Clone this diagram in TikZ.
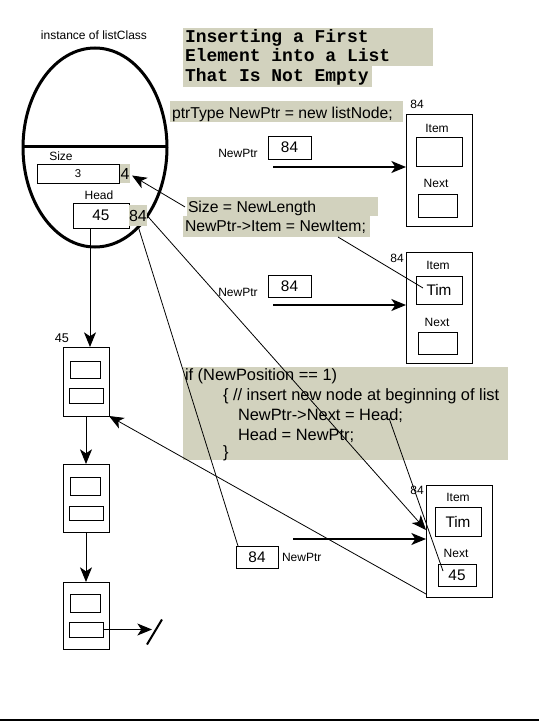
\documentclass[tikz,border=0pt]{standalone}
\usepackage{fontspec}
\setmainfont{Liberation Sans}
\newfontfamily\monob{Liberation Mono}
\usetikzlibrary{arrows.meta,shapes.geometric,calc}
\definecolor{hl}{RGB}{210,210,190}
\begin{document}
\begin{tikzpicture}[x=0.75pt,y=-0.75pt,
  every node/.style={inner sep=0pt, outer sep=0pt},
  sz/.style 2 args={minimum width=#1*0.75pt, minimum height=#2*0.75pt},
  lbl/.style={font=\fontsize{9}{10}\selectfont},
  box/.style={draw, line width=0.75pt},
  num/.style={font=\fontsize{11.5}{13}\selectfont},
  code/.style={font=\fontsize{11.8}{14}\selectfont, anchor=base west},
  code2/.style={font=\fontsize{12.3}{14}\selectfont, anchor=base west},
  bg/.style={fill=hl, anchor=north west},
  ttl/.style={font=\monob\bfseries\fontsize{13.5}{15}\selectfont, anchor=base west},
  arr/.style={-{Stealth[length=11pt,width=9pt,inset=3pt]}},
  conn/.style={line width=0.6pt},
  ptrarr/.style={arr, line width=1.1pt},
]
\useasboundingbox (0,0) rectangle (539,721);

% ---- title ----
\node[bg, sz={250}{38}] (t12bg) at (183,28) {};
\node[bg, sz={189}{21}] (t3bg) at (183,66) {};
\node[ttl] (t1) at (185,42) {Inserting a First};
\node[ttl] (t2) at (185,61.5) {Element into a List};
\node[ttl] (t3) at (185,81) {That Is Not Empty};

% ---- list object ----
\node[lbl] (inst) at (94,35) {instance of listClass};
\node[draw, ellipse, line width=2.25pt, sz={144}{199}] (obj) at (95,147.5) {};
\draw[line width=2.25pt] ($(obj.west)+(0,-1)$) -- ($(obj.east)+(0,-1)$);
\node[lbl] (sizel) at (61,156) {Size};
\node[box, sz={82}{19}, font=\fontsize{8.5}{10}\selectfont] (szb) at (78,173.5) {3};
\node[fill=hl, sz={10}{19}, font=\fontsize{12}{14}\selectfont] (four) at (125,173.5) {4};
\node[lbl] (headl) at (99,195) {Head};
\node[box, sz={56}{25}, num] (hb) at (101,215.5) {45};
\node[fill=hl, sz={18}{21}, font=\fontsize{12}{14}\selectfont] (hp) at (138,215.5) {84};

% ---- existing list ----
\node[font=\fontsize{9.5}{10}\selectfont] (l45) at (62,338) {45};
\node[box, sz={46}{69}] (l1) at (86,381.5) {};
\node[box, sz={30}{17}] (l1a) at (85,369.5) {};
\node[box, sz={34}{15}] (l1b) at (86,395.5) {};
\node[box, sz={46}{68}] (l2) at (86,498) {};
\node[box, sz={30}{18}] (l2a) at (85,486) {};
\node[box, sz={34}{14}] (l2b) at (86,513) {};
\node[box, sz={46}{67}] (l3) at (86,615.5) {};
\node[box, sz={30}{18}] (l3a) at (85,603) {};
\node[box, sz={34}{15}] (l3b) at (86,629.5) {};
\coordinate (vx) at (90,0);
\draw[arr, line width=0.75pt] (hb.south -| vx) -- (l1.north -| vx);
\draw[arr, line width=0.75pt] (l1.south) -- (l2.north);
\draw[arr, line width=0.75pt] (l2.south) -- (l3.north);
\coordinate (nullend) at (152,629.5);
\draw[arr, line width=0.75pt] (l3b.east) -- (nullend);
\draw[line width=1.5pt] ($(nullend)+(-5,15)$) -- ($(nullend)+(10,-10)$);

% ---- code texts ----
\node[bg, sz={233}{21}] (ptrbg) at (170,101) {};
\node[code] (ptr) at (172,118) {ptrType NewPtr = new listNode;};
\node[bg, sz={191}{19}] (szbg) at (187,197) {};
\node[bg, sz={187}{21}] (icbg) at (183,216) {};
\node[code] (szc) at (188,212) {Size = NewLength};
\node[code] (ic) at (185,231) {NewPtr->Item = NewItem;};
\node[bg, sz={325}{93}] (codebg) at (183,367) {};
\node[code2] (c1) at (185,380) {if (NewPosition == 1)};
\node[code2] (c2) at (223,400) {\{ // insert new node at beginning of list};
\node[code2] (c3) at (238,420) {NewPtr->Next = Head;};
\node[code2] (c4) at (238,440) {Head = NewPtr;};
\node[code2] (c5) at (223,457) {\}};

% ---- node A ----
\node[lbl] (a84l) at (417,104) {84};
\node[box, sz={66}{112}] (nA) at (439,170) {};
\node[lbl] (aitl) at (437,128) {Item};
\node[box, sz={46}{29}] (aIt) at (439,151.5) {};
\node[lbl] (anxl) at (436,183) {Next};
\node[box, sz={39}{23}] (aNx) at (437.5,205.5) {};
\node[lbl] (apl) at (238,153) {NewPtr};
\node[box, sz={43}{23}, num] (ap) at (289.5,147.5) {84};
\coordinate (aarr) at (273,167);
\draw[ptrarr] (aarr) -- (aarr -| nA.west);

% ---- node B ----
\node[lbl] (b84l) at (397,258) {84};
\node[box, sz={66}{111}] (nB) at (439,307.5) {};
\node[lbl] (bitl) at (438,265) {Item};
\node[box, sz={46}{28}, num] (timB) at (439,290) {Tim};
\node[lbl] (bnxl) at (437,322) {Next};
\node[box, sz={39}{22}] (bNx) at (437.5,343) {};
\node[lbl] (bpl) at (238,292) {NewPtr};
\node[box, sz={43}{22}, num] (bp) at (289.5,286) {84};
\coordinate (barr) at (273,305);
\draw[ptrarr] (barr) -- (barr -| nB.west);

% ---- node C ----
\node[lbl] (c84l) at (417,490) {84};
\node[box, sz={66}{112}] (nC) at (459,541) {};
\node[lbl] (citl) at (458,497) {Item};
\node[box, sz={46}{29}, num] (timC) at (458,521.5) {Tim};
\node[lbl] (cnxl) at (456,553) {Next};
\node[box, sz={38}{22}, num] (c45) at (457,575) {45};
\node[box, sz={42}{22}, num] (bp2) at (257,557) {84};
\node[lbl, anchor=west] (cpl) at (282,557) {NewPtr};
\coordinate (carr) at (293,539);
\draw[ptrarr] (carr) -- (carr -| nC.west);

% ---- connectors ----
\draw[arr, conn] ($(szc.west)+(-3,-1)$) -- ($(four.east)+(2,2)$);
\draw[conn] ($(icbg.south west)+(155,0)$) -- ($(timB.west)+(7,-2)$);
\draw[arr, conn] (hp.east) -- ($(nC.west)+(0,-11)$);
\draw[conn] (hp.south) -- ($(bp2.north west)+(2,0)$);
\draw[conn] ($(c3.base east)+(-14,-2)$) -- ($(c45.west)+(5,-4)$);
\draw[arr, conn] ($(nC.south west)+(0,-3)$) -- (l1.south east);

% ---- bottom rule ----
\coordinate (bl) at (0,719.5);
\coordinate (br) at (539,719.5);
\draw[line width=1.5pt] (bl) -- (br);
\end{tikzpicture}
\end{document}
